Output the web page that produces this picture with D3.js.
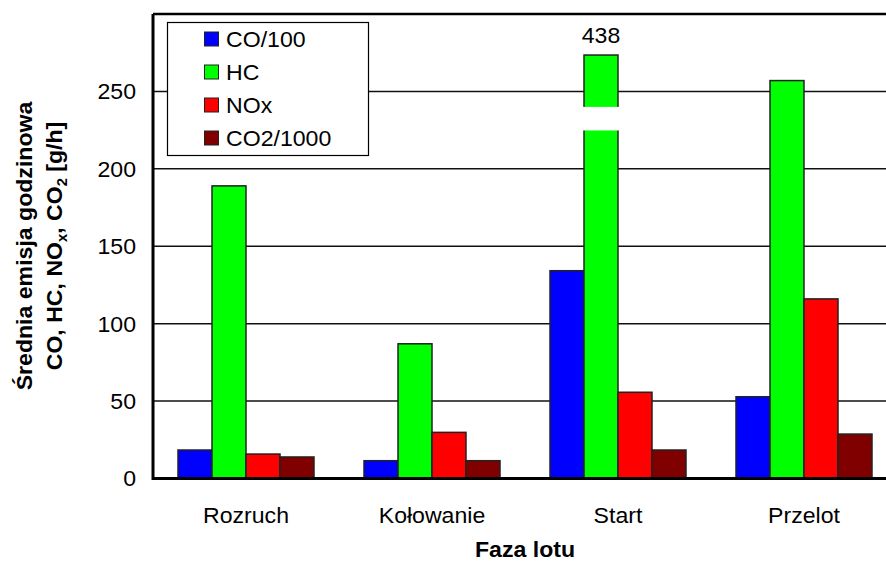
<!DOCTYPE html>
<html>
<head>
<meta charset="utf-8">
<script src="https://cdn.jsdelivr.net/npm/d3@7"></script>
<style>
  body { margin: 0; background: #fff; }
  svg { display: block; font-family: "Liberation Sans", Arial, sans-serif; }
</style>
</head>
<body>
<div id="chart"></div>
<script>
// data
const phases = ["Rozruch", "Kołowanie", "Start", "Przelot"];
const seriesNames = ["CO/100", "HC", "NOx", "CO2/1000"];
const co100 = [18.4, 11.5, 134.2, 52.8];
const hc = [189, 87, 438, 257];
const nox = [15.8, 29.8, 55.7, 116];
const co2k = [13.9, 11.5, 18.4, 28.7];
const yTicks = [0, 50, 100, 150, 200, 250];

const colors = ["#0000ff", "#00ff00", "#ff0000", "#800000"];
const values = [co100, hc, nox, co2k];

const width = 886, height = 562;
const m = { left: 153, top: 14, right: 897, bottom: 478.5 };
const sx = 1.05; // text looks slightly stretched
const fs = 22;

const svg = d3.select("#chart").append("svg")
  .attr("width", width)
  .attr("height", height);

const x0 = d3.scaleBand().domain(phases).range([m.left, m.right]);
const x1 = d3.scaleBand().domain(seriesNames).range([25, x0.bandwidth() - 25]);
const y = d3.scaleLinear().domain([0, 300]).range([m.bottom, m.top]);

// cut bar: anything above this is drawn broken
const capValue = 273.5;
const gap = [224.8, 240];

function label(g, txt, x, yy, opts = {}) {
  return g.append("text")
    .attr("transform", `translate(${x},${yy}) ${opts.rotate ? "rotate(-90)" : ""} scale(${sx},1)`)
    .attr("text-anchor", opts.anchor || "middle")
    .attr("font-size", opts.size || fs)
    .attr("font-weight", opts.bold ? "bold" : null)
    .attr("dy", opts.dy || null)
    .attr("fill", "#000")
    .text(txt);
}

// gridlines
svg.append("g").selectAll("line")
  .data(yTicks.filter(d => d > 0))
  .join("line")
  .attr("x1", m.left).attr("x2", m.right)
  .attr("y1", d => y(d)).attr("y2", d => y(d))
  .attr("stroke", "#111").attr("stroke-width", 1.5);

// bars
const rows = phases.map((p, i) => ({ phase: p, vals: seriesNames.map((s, j) => ({ s, j, v: values[j][i] })) }));

const groups = svg.append("g").selectAll("g")
  .data(rows)
  .join("g")
  .attr("transform", d => `translate(${x0(d.phase)},0)`);

groups.selectAll("rect")
  .data(d => d.vals)
  .join("rect")
  .attr("x", d => x1(d.s))
  .attr("width", x1.bandwidth())
  .attr("y", d => y(Math.min(d.v, capValue)))
  .attr("height", d => y(0) - y(Math.min(d.v, capValue)))
  .attr("fill", d => colors[d.j])
  .attr("stroke", "#222")
  .attr("stroke-width", 1.5);

// break in the cut bar + its real value
groups.each(function(d) {
  d.vals.filter(v => v.v > capValue).forEach(v => {
    const g = d3.select(this);
    g.append("rect")
      .attr("x", x1(v.s) - 2)
      .attr("width", x1.bandwidth() + 4)
      .attr("y", y(gap[1]))
      .attr("height", y(gap[0]) - y(gap[1]))
      .attr("fill", "#fff");
    label(g, String(v.v), x1(v.s) + x1.bandwidth() / 2, 43);
  });
});

// frame: left, bottom, top
svg.append("line").attr("x1", m.left).attr("x2", m.right).attr("y1", m.top).attr("y2", m.top)
  .attr("stroke", "#000").attr("stroke-width", 2.5);
svg.append("line").attr("x1", m.left).attr("x2", m.right).attr("y1", m.bottom).attr("y2", m.bottom)
  .attr("stroke", "#000").attr("stroke-width", 3);
svg.append("line").attr("x1", m.left).attr("x2", m.left).attr("y1", m.top).attr("y2", m.bottom + 1.5)
  .attr("stroke", "#000").attr("stroke-width", 3);

// y tick labels
const yAx = svg.append("g");
yTicks.forEach(t => label(yAx, String(t), 136, y(t), { anchor: "end", dy: "0.36em" }));

// x labels
const xAx = svg.append("g");
phases.forEach(p => label(xAx, p, x0(p) + x0.bandwidth() / 2, 523));
label(svg, "Faza lotu", (m.left + m.right) / 2, 557, { bold: true });

// y title
label(svg, "Średnia emisja godzinowa", 32, 246, { rotate: true, bold: true });
const t2 = svg.append("text")
  .attr("transform", `translate(62,246) rotate(-90) scale(${sx},1)`)
  .attr("text-anchor", "middle")
  .attr("font-size", fs)
  .attr("font-weight", "bold");
t2.append("tspan").text("CO, HC, NO");
t2.append("tspan").attr("font-size", 14).attr("dy", 5).text("x");
t2.append("tspan").attr("dy", -5).text(", CO");
t2.append("tspan").attr("font-size", 14).attr("dy", 5).text("2");
t2.append("tspan").attr("dy", -5).text(" [g/h]");

// legend
const leg = svg.append("g");
leg.append("rect")
  .attr("x", 167.5).attr("y", 22.5)
  .attr("width", 201).attr("height", 133)
  .attr("fill", "#fff").attr("stroke", "#000").attr("stroke-width", 1.2);
seriesNames.forEach((s, i) => {
  const cy = 39 + i * 33;
  leg.append("rect")
    .attr("x", 204.5).attr("y", cy - 7)
    .attr("width", 14).attr("height", 14)
    .attr("fill", colors[i]).attr("stroke", "#222").attr("stroke-width", 1);
  label(leg, s, 226, cy, { anchor: "start", dy: "0.36em" });
});
</script>
</body>
</html>
